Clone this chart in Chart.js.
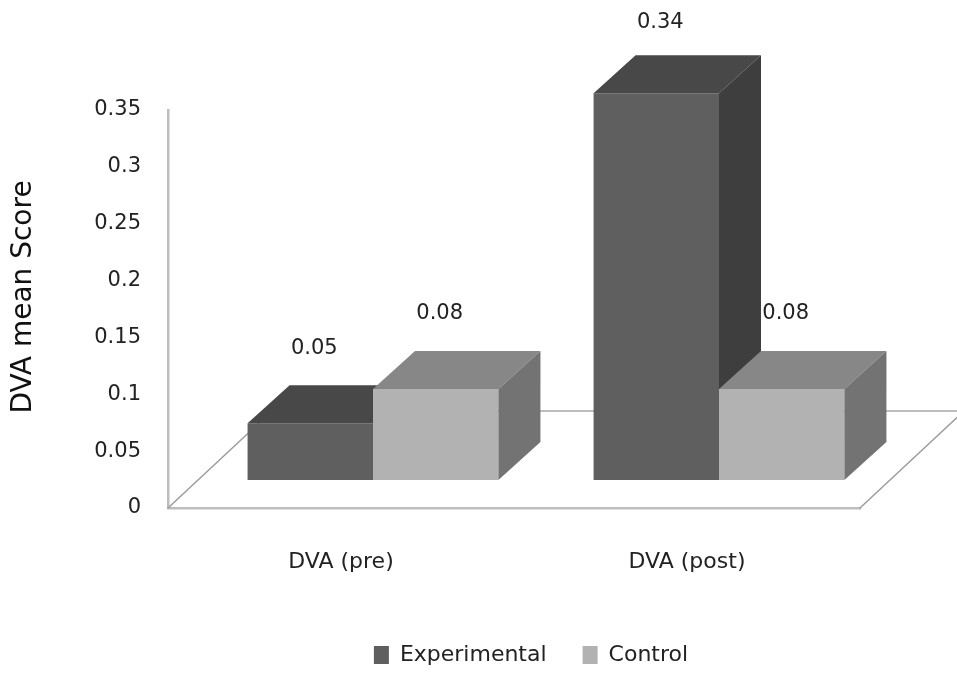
<!DOCTYPE html>
<html>
<head>
<meta charset="utf-8">
<title>DVA mean Score</title>
<script src="https://cdn.jsdelivr.net/npm/chart.js@4.4.1/dist/chart.umd.min.js"></script>
<style>
  html, body { margin: 0; padding: 0; background: #ffffff; }
  #c { display: block; }
</style>
</head>
<body>
<canvas id="c" width="957" height="673"></canvas>
<script>
// ---- data ----
const categories = ['DVA (pre)', 'DVA (post)'];
const seriesNames = ['Experimental', 'Control'];
const experimental = [0.05, 0.34];
const control = [0.08, 0.08];
const yTicks = [0, 0.05, 0.1, 0.15, 0.2, 0.25, 0.3, 0.35];

// ---- look ----
const FONT = 'DejaVu Sans';
const TEXT = '#222222';
const faces = [
  { front: '#5f5f5f', top: '#484848', side: '#3e3e3e' },   // Experimental
  { front: '#b2b2b2', top: '#878787', side: '#737373' }    // Control
];
// oblique projection used for the 3D look (pixels)
const FLOOR_DEPTH = [104, -97];
const BAR_FRONT = [32, -28];
const BAR_DEPTH = [42, -38];
const TITLE_SHIFT = -12;

function poly(ctx, pts, fill) {
  ctx.beginPath();
  ctx.moveTo(pts[0][0], pts[0][1]);
  for (let k = 1; k < pts.length; k++) ctx.lineTo(pts[k][0], pts[k][1]);
  ctx.closePath();
  ctx.fillStyle = fill;
  ctx.fill();
}

// Draws the floor, the 3D columns and the value labels from the bar elements
const columns3d = {
  id: 'columns3d',
  afterLayout(chart) {
    const lg = chart.legend;
    if (lg) {
      lg.left += 17; lg.right += 17;
      lg.top += 3; lg.bottom += 3;
    }
    // lift the value-axis title a little above the axis centre
    const ys = chart.scales.y;
    if (ys && !ys._titleLifted) {
      const orig = ys.drawTitle;
      ys.drawTitle = function () {
        const c = this.ctx;
        c.save();
        c.translate(0, TITLE_SHIFT);
        orig.apply(this, arguments);
        c.restore();
      };
      ys._titleLifted = true;
    }
  },
  beforeDatasetsDraw(chart) {
    const ctx = chart.ctx;
    const a = chart.chartArea;
    ctx.save();

    // floor outline
    const fx = FLOOR_DEPTH[0], fy = FLOOR_DEPTH[1];
    ctx.lineCap = 'round';
    ctx.strokeStyle = '#9c9c9c';
    ctx.lineWidth = 1.5;
    ctx.beginPath();
    ctx.moveTo(a.left, a.bottom); ctx.lineTo(a.left + fx, a.bottom + fy);
    ctx.moveTo(a.right, a.bottom); ctx.lineTo(a.right + fx, a.bottom + fy);
    ctx.stroke();
    ctx.strokeStyle = '#bdbdbd';
    ctx.lineWidth = 2;
    ctx.beginPath();
    ctx.moveTo(a.left + fx, a.bottom + fy); ctx.lineTo(a.right + fx, a.bottom + fy);
    ctx.stroke();

    // columns: category by category, series left to right
    const metas = chart.data.datasets.map((d, i) => chart.getDatasetMeta(i));
    const labels = [];
    for (let j = 0; j < categories.length; j++) {
      for (let i = 0; i < metas.length; i++) {
        const el = metas[i].data[j];
        const p = el.getProps(['x', 'y', 'base', 'width'], true);
        const x0 = p.x - p.width / 2 + BAR_FRONT[0];
        const x1 = p.x + p.width / 2 + BAR_FRONT[0];
        const yt = p.y + BAR_FRONT[1];
        const yb = p.base + BAR_FRONT[1];
        const dx = BAR_DEPTH[0], dy = BAR_DEPTH[1];
        const f = faces[i];
        poly(ctx, [[x0, yb], [x0, yt], [x1, yt], [x1, yb]], f.front);
        poly(ctx, [[x0, yt], [x0 + dx, yt + dy], [x1 + dx, yt + dy], [x1, yt]], f.top);
        poly(ctx, [[x1, yb], [x1, yt], [x1 + dx, yt + dy], [x1 + dx, yb + dy]], f.side);
        const v = chart.data.datasets[i].data[j];
        labels.push({ text: v.toFixed(2), x: (x0 + x1) / 2 + 4, y: Math.max(yt + dy - 37, 23) });
      }
    }

    // value labels
    ctx.fillStyle = TEXT;
    ctx.font = '21px "' + FONT + '"';
    ctx.textAlign = 'center';
    ctx.textBaseline = 'middle';
    labels.forEach(l => ctx.fillText(l.text, l.x, l.y));

    ctx.restore();
    return false;
  }
};

new Chart(document.getElementById('c'), {
  type: 'bar',
  data: {
    labels: categories,
    datasets: [
      { label: seriesNames[0], data: experimental, backgroundColor: faces[0].front },
      { label: seriesNames[1], data: control, backgroundColor: faces[1].front }
    ]
  },
  options: {
    responsive: false,
    animation: false,
    events: [],
    layout: { padding: { left: 0, right: 97, top: 110, bottom: 0 } },
    datasets: { bar: { categoryPercentage: 0.725, barPercentage: 1 } },
    plugins: {
      legend: {
        position: 'bottom',
        fullSize: false,
        labels: {
          boxWidth: 15,
          boxHeight: 18,
          padding: 36,
          color: TEXT,
          font: { family: FONT, size: 22 }
        }
      },
      tooltip: { enabled: false }
    },
    scales: {
      x: {
        grid: { display: false, drawTicks: false },
        border: { display: true, color: '#bdbdbd', width: 2.5 },
        ticks: { padding: 41, color: TEXT, font: { family: FONT, size: 22 } },
        afterFit: s => { s.height = 97; }
      },
      y: {
        min: 0,
        max: 0.35,
        afterBuildTicks: s => { s.ticks = yTicks.map(v => ({ value: v })); },
        grid: { display: false, drawTicks: false },
        border: { display: true, color: '#bdbdbd', width: 2.5 },
        ticks: {
          padding: 27,
          color: TEXT,
          font: { family: FONT, size: 21 },
          callback: v => String(v)
        },
        title: {
          display: true,
          text: 'DVA mean Score',
          color: '#111111',
          padding: { top: 7, bottom: 0 },
          font: { family: FONT, size: 28 }
        },
        afterFit: s => { s.width = 168; }
      }
    }
  },
  plugins: [columns3d]
});
</script>
</body>
</html>
